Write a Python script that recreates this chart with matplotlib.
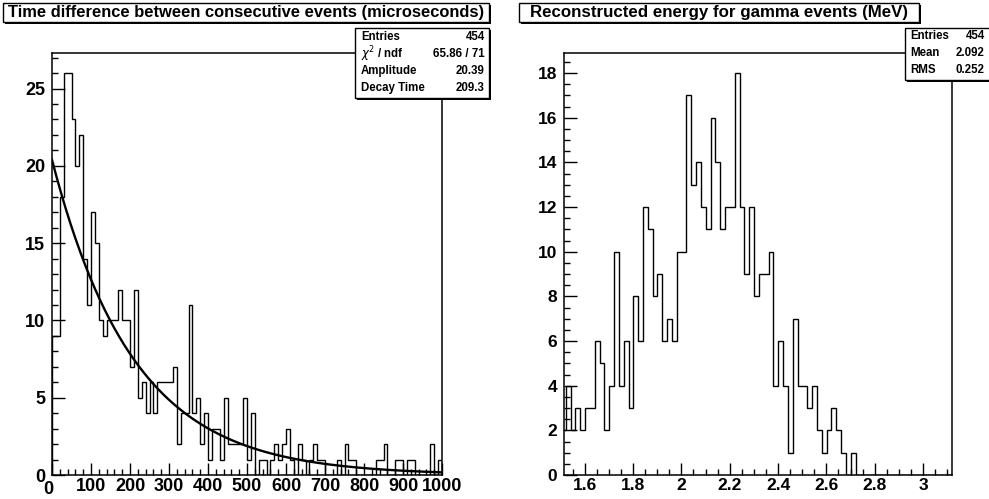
import numpy as np
import matplotlib
matplotlib.use("Agg")
import matplotlib.pyplot as plt
import matplotlib.transforms as mtransforms
from matplotlib.patches import Rectangle
from matplotlib.ticker import MultipleLocator

# time between consecutive events, 100 bins of 10 us
dt_counts = [9, 9, 18, 26, 26, 23, 20, 22, 14, 11,
             17, 15, 10, 9, 10, 10, 10, 12, 10, 10,
             7, 12, 5, 6, 4, 6, 4, 6, 6, 6,
             6, 7, 2, 4, 4, 11, 4, 5, 2, 4,
             1, 3, 3, 1, 5, 2, 2, 2, 2, 5,
             1, 4, 0, 1, 1, 0, 1, 2, 1, 2,
             3, 1, 0, 2, 1, 0, 1, 2, 1, 1,
             0, 0, 0, 1, 0, 2, 1, 1, 0, 0,
             0, 0, 0, 1, 1, 2, 0, 0, 1, 1,
             0, 1, 1, 0, 0, 0, 0, 2, 0, 1]
dt_lo, dt_hi = 0, 1000
fit_amp = 20.39
fit_tau = 209.3

# reconstructed gamma energy, bins of 0.02 MeV
e_lo = 1.501
e_counts = [2, 4, 2, 3, 2, 3, 3, 6, 5, 2,
            4, 10, 4, 6, 3, 8, 6, 12, 11, 8,
            9, 6, 7, 6, 10, 10, 17, 13, 14, 12,
            11, 16, 14, 11, 12, 12, 18, 12, 9, 12,
            8, 9, 9, 10, 4, 6, 4, 1, 7, 4,
            4, 3, 4, 2, 1, 2, 3, 2, 1, 0,
            1, 0, 0, 0, 0, 0, 0, 0, 0, 0,
            0, 0, 0, 0, 0, 0, 0, 0, 0, 0, 0]
e_width = 0.02

W, H = 989, 499
fig = plt.figure(figsize=(W / 100, H / 100), dpi=100)
fig.patch.set_facecolor("white")
FONT = "Liberation Sans"


def box(x0, y0, x1, y1):
    # pixel box (top-left origin) -> figure fraction rect
    return [x0 / W, 1 - y1 / H, (x1 - x0) / W, (y1 - y0) / H]


def style_axes(ax, xmaj, xmin, ymaj, ymin, size):
    ax.xaxis.set_major_locator(MultipleLocator(xmaj))
    ax.xaxis.set_minor_locator(MultipleLocator(xmin))
    ax.yaxis.set_major_locator(MultipleLocator(ymaj))
    ax.yaxis.set_minor_locator(MultipleLocator(ymin))
    ax.tick_params(which="both", direction="in", top=False, right=False,
                   width=1.0, color="black")
    ax.tick_params(which="major", length=9)
    ax.tick_params(which="minor", length=4.5)
    ax.tick_params(axis="x", which="major", pad=2.5)
    ax.tick_params(axis="y", which="major", pad=5)
    for lab in ax.get_xticklabels() + ax.get_yticklabels():
        lab.set_fontfamily(FONT)
        lab.set_fontweight("bold")
        lab.set_fontsize(size)
    for s in ax.spines.values():
        s.set_linewidth(1.1)


def draw_pave(px0, py0, px1, py1, shadow=True):
    if shadow:
        fig.add_artist(Rectangle((px0 / W + 2 / W, 1 - py1 / H - 2 / H),
                                 (px1 - px0) / W, (py1 - py0) / H,
                                 transform=fig.transFigure, facecolor="black",
                                 edgecolor="black", lw=0, zorder=5))
    fig.add_artist(Rectangle((px0 / W, 1 - py1 / H), (px1 - px0) / W,
                             (py1 - py0) / H, transform=fig.transFigure,
                             facecolor="white", edgecolor="black", lw=1.0,
                             zorder=6))


def ftext(px, py, s, ha="left", size=8, **kw):
    fig.text(px / W, 1 - py / H, s, ha=ha, va="center", fontsize=size,
             fontfamily=FONT, fontweight="bold", zorder=7, **kw)


# ---- left pad ----
ax1 = fig.add_axes(box(52, 53, 442, 475))
edges1 = np.linspace(dt_lo, dt_hi, len(dt_counts) + 1)
ax1.stairs(dt_counts, edges1, color="black", lw=1.0, baseline=0)
xs = np.linspace(dt_lo, dt_hi, 400)
ax1.plot(xs, fit_amp * np.exp(-xs / fit_tau), color="black", lw=1.7)
ax1.set_xlim(dt_lo, dt_hi)
ax1.set_ylim(0, max(dt_counts) * 1.05)
style_axes(ax1, 100, 20, 5, 1, 13)
# ROOT pushes the shared "0" labels down/left at the origin
fig.canvas.draw()
shift = mtransforms.ScaledTranslation(-4 / 100, -3 / 100, fig.dpi_scale_trans)
ax1.get_xticklabels()[1].set_transform(ax1.get_xticklabels()[1].get_transform() + shift)

draw_pave(3, 3, 489, 22)
ftext(246, 12.5, "Time difference between consecutive events (microseconds)",
      ha="center", size=11.9)
draw_pave(355, 28, 489, 98)
rows1 = [("Entries", "454"), (r"$\chi^{2}$ / ndf", "65.86 / 71"),
         ("Amplitude", "20.39"), ("Decay Time", "209.3")]
for i, (k, v) in enumerate(rows1):
    ftext(361, 37 + i * 17, k, size=8.3)
    ftext(485, 37 + i * 17, v, ha="right", size=8.3)

# ---- right pad ----
ax2 = fig.add_axes(box(564, 53, 952, 475))
edges2 = e_lo + e_width * np.arange(len(e_counts) + 1)
ax2.stairs(e_counts, edges2, color="black", lw=1.0, baseline=0)
ax2.set_xlim(e_lo + 0.013, e_lo + 0.013 + 1.606)
ax2.set_ylim(0, max(e_counts) * 1.05)
style_axes(ax2, 0.2, 0.05, 2, 0.5, 12.5)
ax2.xaxis.set_major_formatter(plt.FuncFormatter(lambda v, p: f"{v:g}"))
for lab in ax2.get_xticklabels():
    lab.set_fontfamily(FONT)
    lab.set_fontweight("bold")
    lab.set_fontsize(12.5)

draw_pave(519, 3, 919, 22)
ftext(719, 12.5, "Reconstructed energy for gamma events (MeV)",
      ha="center", size=12.2)
draw_pave(905, 28, 995, 80)
rows2 = [("Entries", "454"), ("Mean", "2.092"), ("RMS", "0.252")]
for i, (k, v) in enumerate(rows2):
    ftext(910, 36 + i * 17, k, size=8.3)
    ftext(985, 36 + i * 17, v, ha="right", size=8.3)

fig.savefig("out.png", dpi=100)
